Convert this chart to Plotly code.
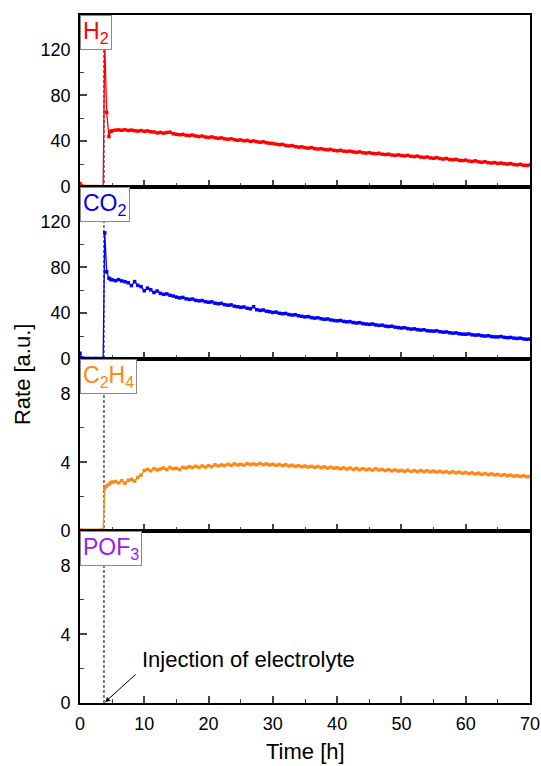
import plotly.graph_objects as go
from plotly.subplots import make_subplots

# ---------------- data ----------------
T_MAIN = [5.0, 5.5, 6.0, 6.5, 7.0, 7.5, 8.0, 8.5, 9.0, 9.5,
          10.0, 10.5, 11.0, 11.5, 12.0, 12.5, 13.0, 13.5, 14.0, 14.5,
          15.0, 15.5, 16.0, 16.5, 17.0, 17.5, 18.0, 18.5, 19.0, 19.5,
          20.0, 20.5, 21.0, 21.5, 22.0, 22.5, 23.0, 23.5, 24.0, 24.5,
          25.0, 25.5, 26.0, 26.5, 27.0, 27.5, 28.0, 28.5, 29.0, 29.5,
          30.0, 30.5, 31.0, 31.5, 32.0, 32.5, 33.0, 33.5, 34.0, 34.5,
          35.0, 35.5, 36.0, 36.5, 37.0, 37.5, 38.0, 38.5, 39.0, 39.5,
          40.0, 40.5, 41.0, 41.5, 42.0, 42.5, 43.0, 43.5, 44.0, 44.5,
          45.0, 45.5, 46.0, 46.5, 47.0, 47.5, 48.0, 48.5, 49.0, 49.5,
          50.0, 50.5, 51.0, 51.5, 52.0, 52.5, 53.0, 53.5, 54.0, 54.5,
          55.0, 55.5, 56.0, 56.5, 57.0, 57.5, 58.0, 58.5, 59.0, 59.5,
          60.0, 60.5, 61.0, 61.5, 62.0, 62.5, 63.0, 63.5, 64.0, 64.5,
          65.0, 65.5, 66.0, 66.5, 67.0, 67.5, 68.0, 68.5, 69.0, 69.5,
          70.0]

T_EARLY = [0.0, 0.25, 0.5, 1.0, 1.5, 2.0, 2.5, 3.0, 3.5, 3.6,
           3.85, 4.15, 4.5, 4.75]

H2_EARLY = [3.0, 0.8, 0.5, 0.4, 0.4, 0.3, 0.4, 0.3, 0.3, 0.3,
            125.0, 65.0, 44.0, 48.5]
H2_MAIN = [49.0, 49.6, 49.8, 49.5, 49.9, 49.3, 49.6, 49.1, 48.8, 49.2,
           48.5, 48.9, 48.2, 48.0, 47.2, 47.6, 47.0, 47.5, 47.8, 46.4,
           46.0, 45.6, 45.9, 45.1, 44.8, 45.3, 44.5, 44.0, 44.4, 43.6,
           43.2, 43.7, 42.9, 42.5, 42.8, 42.0, 41.6, 42.1, 41.2, 40.8,
           41.0, 40.3, 40.6, 39.8, 40.2, 39.5, 39.0, 39.4, 38.6, 38.2,
           38.0, 37.4, 36.9, 37.2, 36.3, 35.8, 36.1, 35.2, 34.8, 35.0,
           34.3, 33.9, 34.3, 33.5, 33.1, 33.4, 32.8, 32.4, 32.8, 32.0,
           31.6, 32.0, 31.3, 31.0, 31.3, 30.6, 30.2, 30.6, 29.9, 29.6,
           29.9, 29.3, 29.0, 29.4, 28.6, 28.3, 28.6, 27.9, 27.6, 28.0,
           27.5, 27.1, 27.6, 26.8, 26.5, 26.9, 26.1, 25.8, 26.2, 25.4,
           25.1, 25.6, 24.8, 24.4, 24.9, 24.0, 23.7, 24.1, 23.3, 23.0,
           23.4, 22.6, 22.3, 22.8, 21.9, 21.6, 22.0, 21.2, 20.9, 21.3,
           20.6, 20.9, 20.3, 20.0, 20.4, 19.6, 19.3, 19.8, 19.0, 18.8,
           19.2]

CO2_EARLY = [5.0, 1.0, 0.6, 0.5, 0.5, 0.4, 0.5, 0.4, 0.4, 0.4,
             110.0, 76.0, 70.5, 69.5]
CO2_MAIN = [69.0, 68.3, 69.2, 68.1, 67.4, 66.5, 64.0, 67.5, 64.2, 63.1,
            59.5, 61.8, 60.4, 58.0, 59.3, 57.3, 56.4, 56.8, 55.6, 54.9,
            54.0, 53.3, 53.7, 52.5, 52.0, 52.3, 51.2, 50.7, 51.0, 50.0,
            49.5, 49.8, 48.7, 48.2, 48.5, 47.4, 46.9, 47.2, 46.1, 45.6,
            45.1, 45.4, 44.3, 43.8, 45.6, 43.0, 42.4, 42.7, 41.7, 41.2,
            40.6, 40.9, 39.9, 39.5, 39.7, 38.8, 38.3, 38.6, 37.7, 37.2,
            36.7, 37.0, 36.1, 35.7, 36.0, 35.1, 34.6, 34.9, 34.1, 33.6,
            33.3, 33.6, 32.8, 32.4, 32.6, 31.8, 31.4, 31.7, 30.9, 30.5,
            30.2, 30.5, 29.7, 29.3, 29.5, 28.7, 28.3, 28.6, 27.8, 27.4,
            27.0, 27.3, 26.5, 26.1, 26.3, 25.6, 25.2, 25.5, 24.7, 24.4,
            24.3, 24.6, 23.8, 23.4, 23.6, 22.9, 22.5, 22.8, 22.0, 21.7,
            21.6, 21.9, 21.1, 20.8, 21.0, 20.3, 20.0, 20.3, 19.6, 19.3,
            19.3, 19.6, 18.9, 18.6, 18.8, 18.2, 17.9, 18.2, 17.5, 17.2,
            17.5]

C2H4_EARLY = [0.05, 0.05, 0.04, 0.05, 0.04, 0.05, 0.04, 0.05, 0.04, 0.05,
              2.5, 2.62, 2.72, 2.8]
C2H4_MAIN = [2.85, 2.88, 2.80, 2.92, 2.78, 2.95, 3.00, 2.90, 3.12, 3.25,
             3.52, 3.58, 3.50, 3.62, 3.55, 3.60, 3.66, 3.57, 3.70, 3.62,
             3.65, 3.58, 3.70, 3.66, 3.74, 3.68, 3.76, 3.70, 3.78, 3.72,
             3.80, 3.74, 3.85, 3.78, 3.84, 3.80, 3.88, 3.82, 3.90, 3.84,
             3.88, 3.83, 3.92, 3.86, 3.90, 3.85, 3.93, 3.86, 3.90, 3.84,
             3.88, 3.82, 3.86, 3.80, 3.85, 3.78, 3.82, 3.76, 3.80, 3.74,
             3.78, 3.72, 3.76, 3.70, 3.75, 3.68, 3.73, 3.66, 3.71, 3.65,
             3.68, 3.62, 3.67, 3.60, 3.66, 3.58, 3.64, 3.57, 3.62, 3.56,
             3.60, 3.54, 3.62, 3.55, 3.58, 3.52, 3.57, 3.50, 3.55, 3.49,
             3.52, 3.47, 3.53, 3.46, 3.51, 3.45, 3.52, 3.46, 3.50, 3.44,
             3.48, 3.43, 3.47, 3.41, 3.45, 3.39, 3.44, 3.38, 3.42, 3.36,
             3.40, 3.34, 3.38, 3.32, 3.36, 3.30, 3.34, 3.28, 3.32, 3.26,
             3.29, 3.23, 3.27, 3.21, 3.25, 3.19, 3.23, 3.17, 3.21, 3.15,
             3.17]

GAS_LABELS = ["H<sub>2</sub>", "CO<sub>2</sub>", "C<sub>2</sub>H<sub>4</sub>", "POF<sub>3</sub>"]
GAS_COLORS = ["#FF0000", "#0000FF", "#FF8814", "#9A1AF0"]
INJECTION_TIME = 3.73
X_TICKS = [0, 10, 20, 30, 40, 50, 60, 70]

FONT = "Liberation Sans, Arial, sans-serif"

# ---------------- figure ----------------
fig = make_subplots(rows=4, cols=1, shared_xaxes=True, vertical_spacing=0)

series = [
    (H2_EARLY + H2_MAIN, 0),
    (CO2_EARLY + CO2_MAIN, 1),
    (C2H4_EARLY + C2H4_MAIN, 2),
]
T_ALL = T_EARLY + T_MAIN
for vals, i in series:
    fig.add_trace(go.Scatter(
        x=T_ALL, y=vals, mode="lines+markers",
        line=dict(color=GAS_COLORS[i], width=1.3),
        marker=dict(symbol="square", size=3.5, color=GAS_COLORS[i]),
        showlegend=False, hoverinfo="skip"), row=i + 1, col=1)

axis_common = dict(showline=True, linecolor="black", linewidth=1.8, mirror=True,
                   ticks="inside", tickwidth=1.5, ticklen=7, showgrid=False,
                   zeroline=False, automargin=False,
                   tickfont=dict(family=FONT, size=18, color="black"))

for r in range(1, 5):
    fig.update_xaxes(range=[0, 70], tickvals=X_TICKS, showticklabels=(r == 4),
                     ticklabelstandoff=3,
                     minor=dict(ticks="inside", ticklen=4, tickwidth=1.3, dtick=5, tick0=0,
                                showgrid=False),
                     row=r, col=1, **axis_common)
    if r <= 2:
        fig.update_yaxes(range=[0, 150], tickvals=[0, 40, 80, 120], ticklabelstandoff=4,
                         minor=dict(ticks="inside", ticklen=4, tickwidth=1.3, tickvals=[20, 60, 100, 140],
                                    showgrid=False),
                         row=r, col=1, **axis_common)
    else:
        fig.update_yaxes(range=[0, 10], tickvals=[0, 4, 8], ticklabelstandoff=4,
                         minor=dict(ticks="inside", ticklen=4, tickwidth=1.3, tickvals=[2, 6, 10],
                                    showgrid=False),
                         row=r, col=1, **axis_common)

# dashed injection line across all panels
fig.add_shape(type="line", xref="x", yref="paper", x0=INJECTION_TIME, x1=INJECTION_TIME,
              y0=0, y1=1, line=dict(color="black", width=1, dash="3px,2px"), layer="below")

# label boxes
for i, (lab, col) in enumerate(zip(GAS_LABELS, GAS_COLORS)):
    ax_id = "" if i == 0 else str(i + 1)
    fig.add_annotation(text=lab, xref=f"x{ax_id} domain", yref=f"y{ax_id} domain",
                       x=0, y=1, xanchor="left", yanchor="top", showarrow=False,
                       font=dict(family=FONT, size=23, color=col),
                       bgcolor="white", bordercolor="#8a8a8a", borderwidth=1, borderpad=2)

# injection annotation
fig.add_annotation(text="Injection of electrolyte", xref="x4", yref="y4",
                   x=9.3, y=2.55, xanchor="left", yanchor="middle", showarrow=False,
                   font=dict(family=FONT, size=22, color="black"))
fig.add_annotation(text="", xref="x4", yref="y4", x=3.9, y=0.05,
                   showarrow=True, ax=32, ay=-29, arrowhead=2, arrowsize=1,
                   arrowwidth=1, arrowcolor="black", standoff=0)

# axis titles
fig.add_annotation(text="Rate [a.u.]", xref="paper", yref="paper", x=-0.129, y=0.478,
                   textangle=-90, showarrow=False, xanchor="center", yanchor="middle",
                   font=dict(family=FONT, size=22, color="black"))
fig.add_annotation(text="Time [h]", xref="paper", yref="paper", x=0.5, y=-0.0712,
                   showarrow=False, xanchor="center", yanchor="middle",
                   font=dict(family=FONT, size=22, color="black"))

fig.update_layout(width=541, height=766, margin=dict(l=80, r=11, t=15, b=63),
                  paper_bgcolor="white", plot_bgcolor="rgba(0,0,0,0)",
                  font=dict(family=FONT))

# remove the page's default body margin so the figure fills the window exactly
fig.write_html("out.html", config={"displayModeBar": False},
               post_script="document.body.style.margin='0';document.body.style.overflow='hidden';")
